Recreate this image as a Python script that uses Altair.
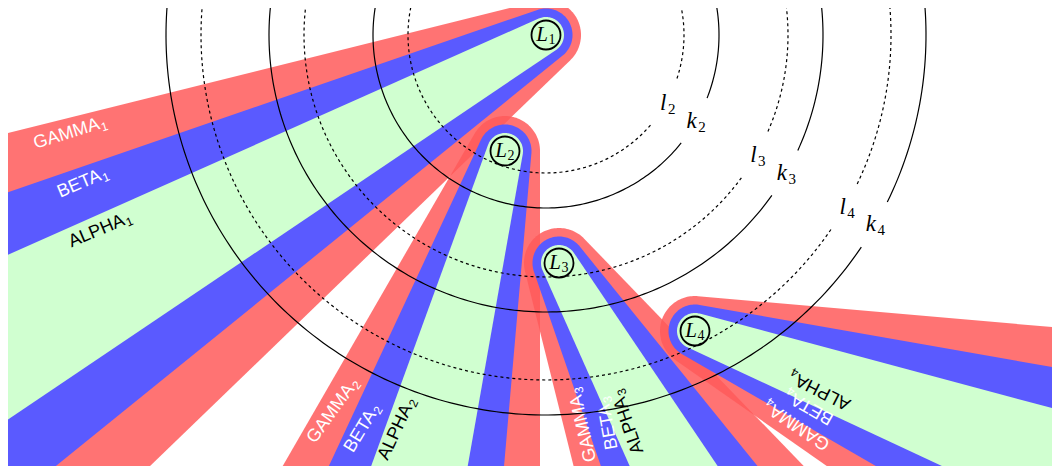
import math
import numpy as np
import pandas as pd
import altair as alt

# ---- data (pixel coordinates of the page, y downward) ----
node_letter = ["L", "L", "L", "L"]
node_sub = ["1", "2", "3", "4"]
node_x = [546, 505, 559, 695]
node_y = [35, 151, 263, 331]
node_dir = [151, 105, 61, 20]          # central direction of each wedge (deg, clockwise from +x)

band_name = ["GAMMA", "BETA", "ALPHA"]
band_half_angle = [15, 10, 5]           # half opening of each band (deg)
band_cap_radius = [35, 26.5, 18]        # radius of the rounded end around the node
band_color = ["#ff5a5a", "#5a5aff", "#d0ffd0"]
band_opacity = [0.85, 1.0, 1.0]
band_text_color = ["#ffffff", "#ffffff", "#000000"]
band_text_em = [3.78, 2.61, 3.28]       # approximate text width in em (Liberation Sans)

label_x = [[70, 82, 100], [333, 362, 397], [583, 608, 628], [797, 810, 820]]
label_y = [[133, 183, 230], [411, 429, 429], [425, 424, 422], [425, 407, 390]]
label_angle = [[343, 337, 337], [306, 301, 295], [257, 260, 251], [214, 210, 207]]

ring_letter = ["l", "k", "l", "k", "l", "k"]
ring_sub = ["2", "2", "3", "3", "4", "4"]
ring_radius = [138, 173, 242, 277, 345, 380]
ring_dashed = [1, 0, 1, 0, 1, 0]
ring_label_angle = 30
ring_gap_half = 26                      # half length of the break around each ring label (px)

X0, X1, Y0, Y1 = 8, 1052, 8, 466
FS = 18
FS_SUB = 12


def xenc():
    return alt.X("x:Q", scale=alt.Scale(domain=[X0, X1], nice=False, zero=False), axis=None)


def yenc():
    return alt.Y("y:Q", scale=alt.Scale(domain=[Y0, Y1], nice=False, zero=False, reverse=True), axis=None)


def wedge_points(cx, cy, c, half, r, T=1600.0):
    a = math.radians(c - half)
    b = math.radians(c + half)
    pts = []
    pb = (cx + r * math.cos(b + math.pi / 2), cy + r * math.sin(b + math.pi / 2))
    pts.append((pb[0] + T * math.cos(b), pb[1] + T * math.sin(b)))
    start = b + math.pi / 2
    end = a - math.pi / 2 + 2 * math.pi
    for t in np.linspace(start, end, 60):
        pts.append((cx + r * math.cos(t), cy + r * math.sin(t)))
    pa = (cx + r * math.cos(a - math.pi / 2), cy + r * math.sin(a - math.pi / 2))
    pts.append((pa[0] + T * math.cos(a), pa[1] + T * math.sin(a)))
    return pd.DataFrame({"x": [p[0] for p in pts], "y": [p[1] for p in pts],
                         "i": list(range(len(pts)))})


layers = []

# wedges
for n in range(4):
    for k in range(3):
        df = wedge_points(node_x[n], node_y[n], node_dir[n], band_half_angle[k], band_cap_radius[k])
        layers.append(
            alt.Chart(df).mark_line(filled=True, fill=band_color[k], fillOpacity=band_opacity[k],
                                    strokeWidth=0, clip=True, interpolate="linear")
            .encode(x=xenc(), y=yenc(), order="i:Q")
        )

# band labels: main word right-aligned at a junction point, subscript left-aligned after it
main_rows, sub_rows = [], []
for n in range(4):
    for k in range(3):
        th = math.radians(label_angle[n][k])
        ux, uy = math.cos(th), math.sin(th)
        vx, vy = -math.sin(th), math.cos(th)
        w_main = band_text_em[k] * FS
        w_sub = 7
        shift = (w_main - w_sub) / 2
        jx = label_x[n][k] + shift * ux
        jy = label_y[n][k] + shift * uy
        main_rows.append({"x": jx, "y": jy, "angle": label_angle[n][k],
                          "text": band_name[k], "color": band_text_color[k]})
        sub_rows.append({"x": jx + 1 * ux + 4 * vx, "y": jy + 1 * uy + 4 * vy,
                         "angle": label_angle[n][k], "text": node_sub[n],
                         "color": band_text_color[k]})
layers.append(
    alt.Chart(pd.DataFrame(main_rows)).mark_text(font="Liberation Sans", fontSize=FS, align="right",
                                                 baseline="middle", clip=True)
    .encode(x=xenc(), y=yenc(), text="text:N",
            angle=alt.Angle("angle:Q", scale=None),
            color=alt.Color("color:N", scale=None))
)
layers.append(
    alt.Chart(pd.DataFrame(sub_rows)).mark_text(font="Liberation Sans", fontSize=FS_SUB, align="left",
                                                baseline="middle", clip=True)
    .encode(x=xenc(), y=yenc(), text="text:N",
            angle=alt.Angle("angle:Q", scale=None),
            color=alt.Color("color:N", scale=None))
)

# rings (concentric circles around L1, broken at their labels)
ring_rows = []
for j, r in enumerate(ring_radius):
    d = math.degrees(ring_gap_half / r)
    for s, t in enumerate(np.linspace(ring_label_angle + d, ring_label_angle + 360 - d, 361)):
        ring_rows.append({"x": node_x[0] + r * math.cos(math.radians(t)),
                          "y": node_y[0] + r * math.sin(math.radians(t)),
                          "i": s, "ring": j, "dashed": ring_dashed[j]})
ring_df = pd.DataFrame(ring_rows)
layers.append(
    alt.Chart(ring_df).transform_filter("datum.dashed == 0")
    .mark_line(color="black", strokeWidth=1.2, clip=True)
    .encode(x=xenc(), y=yenc(), order="i:Q", detail="ring:N")
)
layers.append(
    alt.Chart(ring_df).transform_filter("datum.dashed == 1")
    .mark_line(color="black", strokeWidth=1.2, strokeDash=[3, 3], clip=True)
    .encode(x=xenc(), y=yenc(), order="i:Q", detail="ring:N")
)

ring_lab_df = pd.DataFrame({
    "x": [node_x[0] + r * math.cos(math.radians(ring_label_angle)) for r in ring_radius],
    "y": [node_y[0] + r * math.sin(math.radians(ring_label_angle)) for r in ring_radius],
    "letter": ring_letter,
    "sub": ring_sub,
})
layers.append(
    alt.Chart(ring_lab_df).mark_text(font="Liberation Serif", fontStyle="italic", fontSize=23,
                                     align="right", baseline="middle", color="black", dx=1, dy=-1)
    .encode(x=xenc(), y=yenc(), text="letter:N")
)
layers.append(
    alt.Chart(ring_lab_df).mark_text(font="Liberation Serif", fontSize=15,
                                     align="left", baseline="middle", color="black", dx=2.5, dy=5)
    .encode(x=xenc(), y=yenc(), text="sub:N")
)

# nodes
node_df = pd.DataFrame({"x": node_x, "y": node_y, "letter": node_letter, "sub": node_sub})
layers.append(
    alt.Chart(node_df).mark_point(shape="circle", size=841, filled=False, color="black",
                                  strokeWidth=1.8, opacity=1)
    .encode(x=xenc(), y=yenc())
)
layers.append(
    alt.Chart(node_df).mark_text(font="Liberation Serif", fontStyle="italic", fontSize=21,
                                 align="right", baseline="middle", color="black", dx=2, dy=0)
    .encode(x=xenc(), y=yenc(), text="letter:N")
)
layers.append(
    alt.Chart(node_df).mark_text(font="Liberation Serif", fontSize=14,
                                 align="left", baseline="middle", color="black", dx=2.5, dy=5)
    .encode(x=xenc(), y=yenc(), text="sub:N")
)

chart = alt.layer(*layers).properties(width=X1 - X0, height=Y1 - Y0, padding=0) \
    .configure_view(stroke=None)

chart.save("out.html", embed_options={"renderer": "svg", "actions": False})
